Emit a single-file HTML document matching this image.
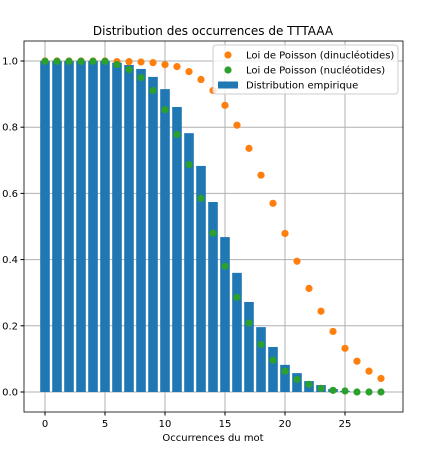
<!DOCTYPE html>
<html><head><meta charset="utf-8"><style>
body{margin:0;background:#fff;font-family:"Liberation Sans","DejaVu Sans",sans-serif}
</style></head><body>
<svg id="chart" width="426" height="453" xmlns="http://www.w3.org/2000/svg" font-family="DejaVu Sans, Liberation Sans, sans-serif">
<rect width="426" height="453" fill="#fff"/>
<g id="grid"></g><g id="bars"></g><g id="dots"></g><g id="axes"></g>
</svg>
<script>
const categories=[0,1,2,3,4,5,6,7,8,9,10,11,12,13,14,15,16,17,18,19,20,21,22,23,24,25,26,27,28];
const empirical=[1,1,1,1,1,1,0.995,0.988,0.976,0.952,0.915,0.861,0.782,0.683,0.574,0.468,0.360,0.272,0.196,0.136,0.082,0.057,0.033,0.021,0.009,0.003,0,0,0];
const poissonDinuc=[1,1,1,1,1,1,0.998,0.998,0.997,0.995,0.989,0.983,0.968,0.944,0.911,0.866,0.806,0.736,0.655,0.570,0.479,0.395,0.313,0.244,0.183,0.132,0.093,0.063,0.041];
const poissonNuc=[0.999,0.999,0.999,0.999,0.999,0.999,0.989,0.974,0.950,0.911,0.853,0.778,0.687,0.585,0.480,0.380,0.286,0.208,0.144,0.096,0.063,0.038,0.023,0.011,0.005,0.003,0,0,0];
const xTicks=[0,5,10,15,20,25];
const yTicks=[0,0.2,0.4,0.6,0.8,1.0];
const NS='http://www.w3.org/2000/svg';
const L=24,R=403,T=41,B=412;
const X=v=>45+v*12;
const Y=v=>392-v*331;
function mk(tag,attrs,parent){const e=document.createElementNS(NS,tag);for(const k in attrs)e.setAttribute(k,attrs[k]);document.getElementById(parent).appendChild(e);return e;}
xTicks.forEach(t=>{const l=mk('line',{x1:X(t),x2:X(t),y1:T,y2:B,stroke:'#b0b0b0','stroke-width':1},'grid');

});
yTicks.forEach(t=>{const l=mk('line',{x1:L,x2:R,y1:Y(t),y2:Y(t),stroke:'#b0b0b0','stroke-width':1},'grid');

});
categories.forEach((c,i)=>{const h=empirical[i];const r=mk('rect',{x:X(c)-4.8,y:Y(h),width:9.6,height:Math.max(0,Y(0)-Y(h)),fill:'#1f77b4'},'bars');

});
categories.forEach((c,i)=>{const d=mk('circle',{cx:X(c),cy:Y(poissonDinuc[i]),r:3.6,fill:'#ff7f0e'},'dots');

});
categories.forEach((c,i)=>{const d=mk('circle',{cx:X(c),cy:Y(poissonNuc[i]),r:3.6,fill:'#2ca02c'},'dots');

});
const f=mk('rect',{x:L,y:T,width:R-L,height:B-T,fill:'none',stroke:'#000','stroke-width':0.8},'axes');


xTicks.forEach(t=>{mk('line',{x1:X(t),x2:X(t),y1:B,y2:B+3.5,stroke:'#000'},'axes');
const tx=mk('text',{x:X(t),y:B+15,'font-size':10,'text-anchor':'middle'},'axes');tx.textContent=t;

});
yTicks.forEach(t=>{mk('line',{x1:L-3.5,x2:L,y1:Y(t),y2:Y(t),stroke:'#000'},'axes');
const tx=mk('text',{x:L-6,y:Y(t)+3.5,'font-size':10,'text-anchor':'end'},'axes');tx.textContent=t.toFixed(1);

});
const ti=mk('text',{x:213,y:35,'font-size':12,'text-anchor':'middle'},'axes');ti.textContent='Distribution des occurrences de TTTAAA';


const xl=mk('text',{x:213,y:441,'font-size':10,'text-anchor':'middle'},'axes');xl.textContent='Occurrences du mot';


const lg=mk('rect',{x:213,y:45,width:185,height:49,rx:3,fill:'#fff','fill-opacity':0.8,stroke:'#ccc'},'axes');


const items=[['Loi de Poisson (dinucléotides)','#ff7f0e','dot'],['Loi de Poisson (nucléotides)','#2ca02c','dot'],['Distribution empirique','#1f77b4','bar']];
items.forEach((it,i)=>{const cy=55+i*15;
if(it[2]==='dot')mk('circle',{cx:228,cy:cy,r:3.6,fill:it[1]},'axes');else mk('rect',{x:218,y:cy-3.5,width:20,height:7,fill:it[1]},'axes');
const t=mk('text',{x:246,y:cy+3.5,'font-size':10},'axes');t.textContent=it[0];

});
</script>
</body></html>
